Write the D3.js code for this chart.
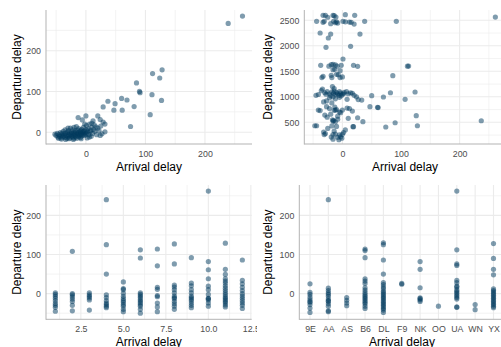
<!DOCTYPE html>
<html>
<head>
<meta charset="utf-8">
<script src="https://cdn.jsdelivr.net/npm/d3@7"></script>
<style>
  body { margin: 0; background: #fff; }
  svg { display: block; font-family: "Liberation Sans", Arial, sans-serif; }
</style>
</head>
<body>
<svg id="chart" width="501" height="347"></svg>
<script>
// arrival delay vs departure delay
const arrDep = [
  [239,267],[263,285],[128,153],[112,144],[124,133],[85,121],[90,100],[91,97],[111,92],[127,78],
  [60,83],[69,79],[37,76],[49,70],[29,62],[47,54],[61,54],[81,63],[108,43],[75,14],
  [0,40],[-13,36],[20,40],[24,31],[32,20],[-6,30],[12,28],[29,25],[32,1],[24,-8],
  [-52,-5],[-50,-8],[-48,-3],[-47,-12],[-45,-6],[-44,-10],[-43,-1],[-42,-14],[-40,-7],[-40,-3],
  [-39,-11],[-38,2],[-37,-9],[-36,-5],[-35,-13],[-35,6],[-34,-2],[-33,-8],[-32,-15],[-31,0],
  [-30,-5],[-30,-11],[-29,4],[-28,-8],[-27,-2],[-27,-14],[-26,10],[-25,-6],[-24,-10],[-24,1],
  [-23,-3],[-22,-12],[-22,6],[-21,-7],[-20,-1],[-20,-15],[-19,-5],[-18,3],[-18,-9],[-17,-12],
  [-16,0],[-16,14],[-15,-4],[-14,-8],[-14,5],[-13,-2],[-12,-11],[-12,9],[-11,-5],[-10,1],
  [-10,-7],[-9,-13],[-9,4],[-8,-3],[-7,7],[-7,-9],[-6,-1],[-5,2],[-5,-6],[-4,12],
  [-3,-4],[-3,3],[-2,-8],[-1,0],[0,6],[0,-5],[1,16],[2,-2],[3,3],[4,9],
  [5,-6],[6,20],[7,1],[8,5],[9,-10],[10,22],[10,12],[11,-3],[13,7],[14,18],
  [15,2],[17,13],[18,-6],[20,10],[22,4],[25,15],[27,-4],[-46,-15],[-41,-17],[-34,-18],
  [-28,-16],[-21,-18],[-15,-15],[-8,-16],[2,-14],[-2,20],[-20,12],[-30,10],[6,-12]
];

// arrival delay vs departure time
const arrDepTime = [
  [-33,2598],[-29,2598],[-16,2598],[-11,2565],[5,2610],[21,2598],[-44,2480],[-33,2460],[-31,2480],[-20,2433],
  [-12,2452],[-10,2470],[-8,2445],[1,2480],[12,2466],[15,2460],[20,2427],[38,2480],[92,2480],[261,2564],
  [-15,2480],[5,2470],[-25,2560],[-14,2590],
  [-38,2251],[-20,2231],[-24,2153],[30,2231],[-28,1970],[14,1990],
  [1,1741],[-37,1618],[-19,1630],[-16,1635],[-12,1625],[-2,1618],[19,1618],[26,1598],[-16,1533],[-13,1540],
  [-4,1512],[-33,1402],[-19,1422],[-7,1433],[-23,1600],[-9,1600],[111,1600],[113,1602],[86,1414],[-35,1378],
  [-18,1378],[-4,1378],[0,1390],[-10,1440],
  [-34,1153],[-41,1045],[-45,1030],[-30,1080],[-26,1100],[-22,1060],[-18,1095],[-15,1070],[-12,1040],[-10,1085],
  [-8,1060],[-5,1100],[-3,1075],[0,1050],[-28,1050],[-20,1020],[-14,1110],[-6,1030],[3,1090],[7,1100],
  [14,1080],[17,1070],[-17,1200],[-14,1160],[-36,1120],[24,1000],[33,937],[50,1022],[70,996],[82,1080],
  [124,1094],[107,951],[-22,980],[-12,960],[-27,920],[-5,990],[8,950],[-32,900],[-18,880],[2,1060],
  [10,1060],[-2,1020],[-16,1000],[20,1030],[27,945],
  [47,806],[60,794],[61,790],[-41,741],[-38,730],[-27,806],[-12,741],[-10,750],[-14,735],[-5,700],
  [-3,690],[8,780],[12,770],[-30,643],[-20,660],[-8,620],[126,630],[-16,525],[-15,535],[-12,510],
  [-17,550],[-8,560],[26,590],[10,578],[35,512],[-13,800],[-22,770],[0,740],[17,720],[-26,600],
  [19,414],[-47,433],[-44,433],[-31,260],[-29,280],[-16,260],[-12,270],[-5,255],[0,265],[-19,210],
  [-8,205],[-3,215],[74,408],[90,492],[128,433],[237,531],[-18,430],[-10,420],[-25,380],[-14,330],
  [-32,310],[2,300],[-6,160],[-16,170],[-1,190],[18,414],[5,350]
];

// delays by month (1..12)
const months = [1,2,3,4,5,6,7,8,9,10,11,12];
const monthDelays = [
  [2,-2,-7,-12,-18,-25,-30,-35,-45],
  [108,0,-3,-8,-14,-20,-30,-44],
  [2,-3,-7,-11,-16,-42],
  [240,125,50,-3,-10,-18,-24,-28,-32,-36],
  [30,13,10,1,-7,-13,-18,-22,-28,-32,-40,-46],
  [112,91,2,-2,-6,-10,-15,-19,-23,-28,-32,-40,-50],
  [114,71,16,11,-5,-8,-24,-34,-46],
  [127,76,22,17,10,2,-6,-10,-13,-20,-26,-32,-40],
  [92,27,20,10,2,-6,-10,-14,-18,-24,-30,-36],
  [262,82,61,38,19,10,-2,-12,-13,-16,-24,-32],
  [129,62,49,38,32,27,20,14,8,2,-3,-8,-12,-16,-20,-24,-29,-34],
  [86,34,25,16,8,0,-6,-12,-18,-24,-30,-38]
];

// delays by carrier
const carriers = ["9E","AA","AS","B6","DL","F9","NK","OO","UA","WN","YX"];
const carrierDelays = [
  [25,3,-2,-9,-15,-20,-22,-28,-37,-48],
  [240,14,8,2,-2,-7,-14,-18,-20,-26,-32,-44,-46],
  [-10,-17,-24,-31],
  [114,110,92,38,32,26,15,9,3,-2,-6,-10,-14,-18,-22,-26,-32,-38],
  [130,125,86,50,28,23,17,12,6,2,-2,-6,-10,-14,-18,-22,-26,-30,-34,-38,-42,-48],
  [26,24],
  [82,62,15,-11,-13,-16,-20],
  [-32],
  [262,112,76,72,34,28,19,17,10,6,2,-2,-6,-10,-14,-34,-35],
  [-28,-41],
  [128,90,62,48,12,8,4,0,-4,-8,-12,-16,-20,-24,-28,-32,-36]
];

const delayTicks = [0, 100, 200];
const delayMinor = [-50, 50, 150, 250];
const timeTicks = [500, 1000, 1500, 2000, 2500];
const timeMinor = [250, 750, 1250, 1750, 2250];
const monthTicks = [2.5, 5, 7.5, 10, 12.5];
const monthMinor = [1.25, 3.75, 6.25, 8.75, 11.25];

const xTitle = "Arrival delay";
const yTitle = "Departure delay";

const pointColor = "#003a5d";
const gridColor = "#ebebeb";
const tickFont = "8.8px";
const svg = d3.select("#chart");

svg.append("defs").append("clipPath").attr("id", "leftcol")
  .append("rect").attr("x", 0).attr("y", 0).attr("width", 257).attr("height", 347);

const leftCol = svg.append("g").attr("clip-path", "url(#leftcol)");
const rightCol = svg.append("g");

function drawPanel(g, p) {
  const [x0, x1] = p.xExtent;
  const [y1, y0] = p.y.range();

  // gridlines
  g.selectAll(null).data(p.yMinor).enter().append("line")
    .attr("x1", x0).attr("x2", x1)
    .attr("y1", d => p.y(d)).attr("y2", d => p.y(d))
    .attr("stroke", gridColor).attr("stroke-width", 0.6);
  g.selectAll(null).data(p.xMinor).enter().append("line")
    .attr("y1", y0).attr("y2", y1)
    .attr("x1", d => p.x(d)).attr("x2", d => p.x(d))
    .attr("stroke", gridColor).attr("stroke-width", 0.6);
  g.selectAll(null).data(p.yMajor).enter().append("line")
    .attr("x1", x0).attr("x2", x1)
    .attr("y1", d => p.y(d)).attr("y2", d => p.y(d))
    .attr("stroke", gridColor).attr("stroke-width", 1.1);
  g.selectAll(null).data(p.xMajor).enter().append("line")
    .attr("y1", y0).attr("y2", y1)
    .attr("x1", d => p.x(d)).attr("x2", d => p.x(d))
    .attr("stroke", gridColor).attr("stroke-width", 1.1);

  // points
  g.selectAll(null).data(p.points).enter().append("circle")
    .attr("cx", d => p.x(d[0]))
    .attr("cy", d => p.y(d[1]))
    .attr("r", 2.6)
    .attr("fill", pointColor)
    .attr("fill-opacity", 0.5);

  // axis lines
  g.append("line").attr("x1", x0).attr("x2", x0).attr("y1", y0).attr("y2", y1 + 0.5)
    .attr("stroke", "#b3b3b3").attr("stroke-width", 1);
  g.append("line").attr("x1", x0).attr("x2", x1).attr("y1", y1).attr("y2", y1)
    .attr("stroke", "#b3b3b3").attr("stroke-width", 1);

  // tick labels
  const yAxis = d3.axisLeft(p.y).tickValues(p.yMajor).tickSize(0).tickPadding(5)
    .tickFormat(d3.format("d"));
  g.append("g").attr("transform", `translate(${x0},0)`).call(yAxis)
    .call(a => a.select(".domain").remove())
    .selectAll("text").attr("fill", "#4d4d4d").style("font-size", tickFont)
    .style("font-family", "\"Liberation Sans\", Arial, sans-serif");

  const xAxis = d3.axisBottom(p.x).tickSize(0).tickPadding(6.7);
  if (p.xMajor) xAxis.tickValues(p.xMajor);
  if (p.xFormat) xAxis.tickFormat(p.xFormat);
  g.append("g").attr("transform", `translate(0,${y1})`).call(xAxis)
    .call(a => a.select(".domain").remove())
    .selectAll("text").attr("fill", "#4d4d4d").style("font-size", tickFont)
    .style("font-family", "\"Liberation Sans\", Arial, sans-serif");

  // titles
  g.append("text")
    .attr("x", (x0 + x1) / 2).attr("y", y1 + 27)
    .attr("text-anchor", "middle").style("font-size", "12px").attr("fill", "#000")
    .text(xTitle);
  g.append("text")
    .attr("transform", `translate(${p.yTitleX},${(y0 + y1) / 2}) rotate(-90)`)
    .attr("text-anchor", "middle").style("font-size", "12px").attr("fill", "#000")
    .text(yTitle);
}

// top left
drawPanel(leftCol, {
  x: d3.scaleLinear().domain([-67, 279]).range([46, 252]),
  y: d3.scaleLinear().domain([-29, 300]).range([144, 10]),
  xExtent: [46, 252],
  xMajor: delayTicks, xMinor: delayMinor,
  yMajor: delayTicks, yMinor: delayMinor.filter(d => d > -29),
  points: arrDep, yTitleX: 21
});

// top right
drawPanel(rightCol, {
  x: d3.scaleLinear().domain([-65, 279]).range([304.3, 505.9]),
  y: d3.scaleLinear().domain([75, 2702]).range([144, 10]),
  xExtent: [304.3, 505.9],
  xMajor: delayTicks, xMinor: delayMinor,
  yMajor: timeTicks, yMinor: timeMinor,
  points: arrDepTime, yTitleX: 272
});

// bottom left
const monthPoints = [];
months.forEach((m, i) => monthDelays[i].forEach(v => monthPoints.push([m, v])));
drawPanel(leftCol, {
  x: d3.scaleLinear().domain([0.45, 12.55]).range([46, 251.7]),
  y: d3.scaleLinear().domain([-65.6, 277.6]).range([319.3, 185]),
  xExtent: [46, 251.7],
  xMajor: monthTicks, xMinor: monthMinor, xFormat: d3.format(".1f"),
  yMajor: delayTicks, yMinor: delayMinor,
  points: monthPoints, yTitleX: 21
});

// bottom right
const carrierPoints = [];
carriers.forEach((c, i) => carrierDelays[i].forEach(v => carrierPoints.push([c, v])));
drawPanel(rightCol, {
  x: d3.scalePoint().domain(carriers).range([310, 493.5]),
  y: d3.scaleLinear().domain([-65.6, 277.6]).range([319.3, 185]),
  xExtent: [299.3, 504.6],
  xMajor: carriers, xMinor: [],
  yMajor: delayTicks, yMinor: delayMinor,
  points: carrierPoints, yTitleX: 272
});
</script>
</body>
</html>
